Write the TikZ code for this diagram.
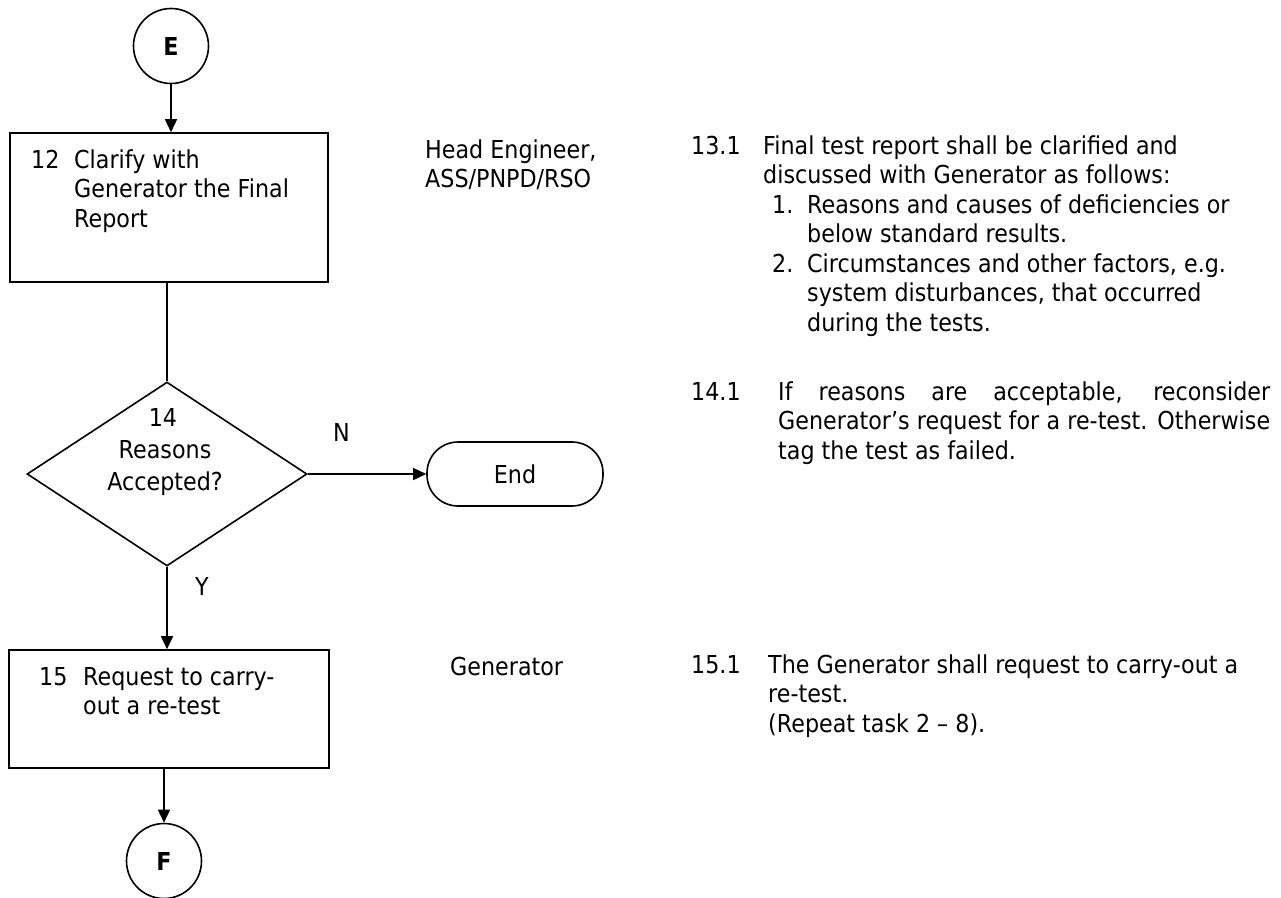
\documentclass[tikz,border=0pt]{standalone}
\usepackage{fontspec}
\setmainfont{DejaVu Sans}[FakeStretch=0.9]
\usetikzlibrary{arrows.meta,shapes.geometric}
\tikzset{
  shapeline/.style={draw=black, line width=1.6pt},
  conn/.style={draw=black, line width=1.5pt},
  arr/.style={conn, -{Triangle[length=13pt,width=12pt]}},
  txt/.style={anchor=base west, inner sep=0pt, font=\fontsize{24.7}{29.5}\selectfont},
  ctxt/.style={anchor=base, inner sep=0pt, font=\fontsize{24.7}{29.5}\selectfont},
  conncircle/.style={shapeline, circle, minimum size=75pt, inner sep=0pt, font=\fontsize{24.7}{29.5}\selectfont\bfseries},
  taskbox/.style={shapeline, rectangle, inner sep=0pt},
}
\newcommand{\blk}[2]{\parbox[t]{#1}{\raggedright #2}}
\begin{document}
\begin{tikzpicture}[x=1pt,y=-1pt]
\useasboundingbox (0,0) rectangle (1281,897);
% left column shapes
\node[conncircle] (E) at (171,46) {E};
\node[taskbox, minimum width=318pt, minimum height=149pt] (b12) at (169,207.5) {};
\node[shapeline, diamond, minimum width=280pt, minimum height=184pt, inner sep=0pt] (d14) at (167,474) {};
\node[shapeline, rectangle, rounded corners=31pt, minimum width=176pt, minimum height=64pt, inner sep=0pt] (end) at (515,474) {};
\node[taskbox, minimum width=320pt, minimum height=118pt] (b15) at (169,709) {};
\node[conncircle] (F) at (164,861) {F};
% connectors
\draw[arr] (E.south) -- (E.south |- b12.north);
\draw[conn] (d14.north |- b12.south) -- (d14.north);
\draw[arr] (d14.east) -- (end.west);
\draw[arr] (d14.south) -- (d14.south |- b15.north);
\draw[arr] (F.north |- b15.south) -- (F.north);
% texts in shapes
\node[txt] (n12) at (31,168) {12};
\node[txt] (t12) at (74,168) {\blk{250pt}{Clarify with\\Generator the Final\\Report}};
\node[ctxt] (n14) at (163,426) {14};
\node[ctxt] (t14a) at (165,458) {Reasons};
\node[ctxt] (t14b) at (165,490) {Accepted?};
\node[ctxt] (tend) at (515,483) {End};
\node[txt] (lN) at (333,441) {N};
\node[txt] (lY) at (195,595) {Y};
\node[txt] (n15) at (39,685) {15};
\node[txt] (t15) at (83,685) {\blk{240pt}{Request to carry-\\out a re-test}};
% responsibility column
\node[txt] (r1) at (425,158) {\blk{220pt}{Head Engineer,\\ASS/PNPD/RSO}};
\node[txt] (r2) at (450,675) {Generator};
% description column
\node[txt] (n131) at (691,154) {13.1};
\node[txt] (t131) at (763,154) {\blk{500pt}{Final test report shall be clarified and\\discussed with Generator as follows:}};
\node[txt] (i1n) at (772,213) {1.};
\node[txt] (i1t) at (807,213) {\blk{470pt}{Reasons and causes of deficiencies or\\below standard results.}};
\node[txt] (i2n) at (772,272) {2.};
\node[txt] (i2t) at (807,272) {\blk{470pt}{Circumstances and other factors, e.g.\\system disturbances, that occurred\\during the tests.}};
\node[txt] (n141) at (691,400) {14.1};
\node[txt] (t141) at (778,400) {\parbox[t]{492pt}{\makebox[492pt][s]{If reasons are acceptable, reconsider}\\\makebox[492pt][s]{Generator’s request for a re-test. Otherwise}\\tag the test as failed.}};
\node[txt] (n151) at (691,673) {15.1};
\node[txt] (t151) at (768,673) {\blk{500pt}{The Generator shall request to carry-out a\\re-test.\\(Repeat task 2 – 8).}};
\end{tikzpicture}
\end{document}
